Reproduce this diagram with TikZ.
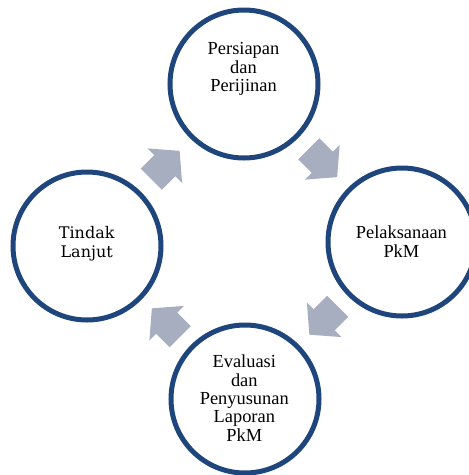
\documentclass[tikz,border=0pt]{standalone}
\usepackage{fontspec}
\setmainfont{Liberation Serif}
\newfontfamily\slabfont{DejaVu Serif}
\usetikzlibrary{calc}
\definecolor{ringblue}{RGB}{31,70,124}
\definecolor{arrowgray}{RGB}{166,174,191}
\tikzset{
  ring/.style={circle, draw=ringblue, line width=5pt, fill=white, minimum size=148pt, inner sep=0pt},
  lbl/.style={align=center, inner sep=0pt, anchor=north, text=black, font=\fontsize{18.4}{18.4}\selectfont},
  lblslab/.style={align=center, inner sep=0pt, anchor=north, text=black, font=\slabfont\fontsize{16}{19}\selectfont},
  flow/.style={fill=arrowgray, draw=none}
}
\newcommand{\blockarrow}[2]{%
  \fill[flow, shift={(#1)}, rotate=#2] (-20,-15) -- (-1,-15) -- (-1,-24.5) -- (20,0) -- (-1,24.5) -- (-1,15) -- (-20,15) -- cycle;}
\begin{document}
\begin{tikzpicture}[x=1pt, y=-1pt]
\useasboundingbox (0,0) rectangle (469,475);
\node[ring] (top) at (244,84) {};
\node[ring] (right) at (402,242) {};
\node[ring] (bottom) at (245,399) {};
\node[ring] (left) at (87,246) {};
\node[lbl] (toptext) at (243.5,42.4) {Persiapan\\dan\\Perijinan};
\node[lbl] (righttext) at (401.4,225.7) {Pelaksanaan\\PkM};
\node[lbl] (bottomtext) at (244.3,354.7) {Evaluasi\\dan\\Penyusunan\\Laporan\\PkM};
\node[lblslab] (lefttext) at (86.7,226.1) {Tindak\\Lanjut};
\coordinate (a1) at ($(top)!0.5!(right)$);
\coordinate (a2) at ($(right)!0.5!(bottom)$);
\coordinate (a3) at ($(bottom)!0.5!(left)$);
\coordinate (a4) at ($(left)!0.5!(top)$);
\blockarrow{a1}{-45}
\blockarrow{a2}{-135}
\blockarrow{a3}{135}
\blockarrow{a4}{45}
\end{tikzpicture}
\end{document}
